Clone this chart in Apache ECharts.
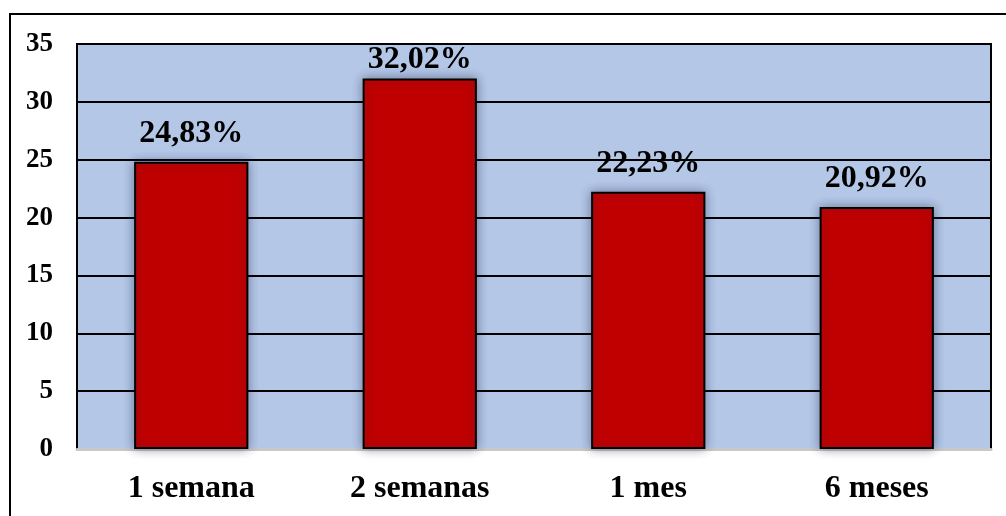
<!DOCTYPE html>
<html>
<head>
<meta charset="utf-8">
<script src="https://cdn.jsdelivr.net/npm/echarts@6/dist/echarts.min.js"></script>
<style>
  html, body { margin: 0; padding: 0; background: #ffffff; }
  #chart { width: 1006px; height: 516px; }
</style>
</head>
<body>
<div id="chart"></div>
<script>
// datos del gráfico
const categorias = ["1 semana", "2 semanas", "1 mes", "6 meses"];
const valores = [24.83, 32.02, 22.23, 20.92];
const etiquetas = ["24,83%", "32,02%", "22,23%", "20,92%"];

const chart = echarts.init(document.getElementById("chart"));

const serif = "'Liberation Serif', 'Times New Roman', serif";

const option = {
  animation: false,
  backgroundColor: "#ffffff",
  graphic: [
    {
      // marco exterior
      type: "rect",
      shape: { x: 10, y: 14, width: 1010, height: 520 },
      style: { fill: null, stroke: "#000000", lineWidth: 2 },
      silent: true,
    },
  ],
  grid: {
    left: 77,
    right: 15,
    top: 44,
    bottom: 67,
    show: true,
    backgroundColor: "#b4c7e7",
    borderColor: "#000000",
    borderWidth: 2,
  },
  xAxis: {
    type: "category",
    data: categorias,
    axisLine: { lineStyle: { color: "#c8c8c8", width: 3 } },
    axisTick: { show: false },
    axisLabel: {
      margin: 24,
      fontFamily: serif,
      fontWeight: "bold",
      fontSize: 32,
      color: "#000000",
    },
  },
  yAxis: {
    type: "value",
    min: 0,
    max: 35,
    interval: 5,
    axisLine: { show: false },
    axisTick: { show: false },
    splitLine: { lineStyle: { color: "#000000", width: 2 } },
    axisLabel: {
      margin: 24,
      fontFamily: serif,
      fontWeight: "bold",
      fontSize: 27,
      color: "#000000",
    },
  },
  series: [
    {
      type: "bar",
      barWidth: "50%",
      data: valores.map((v, i) => ({
        value: v,
        label: i === 1 ? { distance: 3 } : {},
      })),
      itemStyle: {
        color: "#c00000",
        borderColor: "#000000",
        borderWidth: 2,
        shadowBlur: 10,
        shadowColor: "rgba(30,40,70,0.45)",
        shadowOffsetX: 0,
        shadowOffsetY: 0,
      },
      label: {
        show: true,
        position: "top",
        distance: 12,
        fontFamily: serif,
        fontWeight: "bold",
        fontSize: 32,
        color: "#000000",
        formatter: (p) => etiquetas[p.dataIndex],
      },
    },
  ],
};

chart.setOption(option);
</script>
</body>
</html>
